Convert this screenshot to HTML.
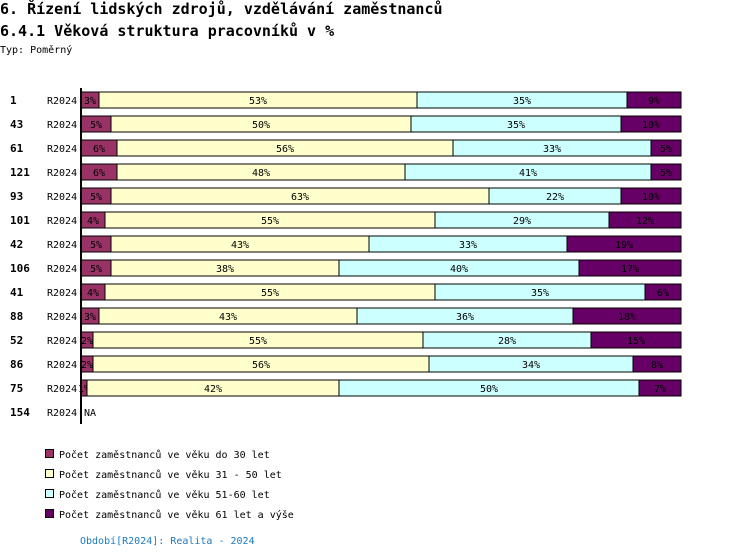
<!DOCTYPE html>
<html><head><meta charset="utf-8"><style>
body{margin:0;width:750px;height:558px;background:#fff;font-family:"DejaVu Sans Mono","Liberation Mono",monospace;position:relative;overflow:hidden}
.t{position:absolute;white-space:nowrap}
</style></head><body>
<div class="t" style="left:0;top:0;font-size:15px;font-weight:bold;line-height:18px">6. Řízení lidských zdrojů, vzdělávání zaměstnanců</div>
<div class="t" style="left:0;top:22px;font-size:15px;font-weight:bold;line-height:18px">6.4.1 Věková struktura pracovníků v %</div>
<div class="t" style="left:0;top:45px;font-size:10px">Typ: Poměrný</div>
<svg id="c" width="750" height="558" style="position:absolute;left:0;top:0"></svg>
<script>
const units=["1","43","61","121","93","101","42","106","41","88","52","86","75","154"];
const periods=["R2024","R2024","R2024","R2024","R2024","R2024","R2024","R2024","R2024","R2024","R2024","R2024","R2024","R2024"];
const under30=[3,5,6,6,5,4,5,5,4,3,2,2,1,null];
const age31to50=[53,50,56,48,63,55,43,38,55,43,55,56,42,null];
const age51to60=[35,35,33,41,22,29,33,40,35,36,28,34,50,null];
const over61=[9,10,5,5,10,12,19,17,6,18,15,8,7,null];
const seriesNames=["Počet zaměstnanců ve věku do 30 let","Počet zaměstnanců ve věku 31 - 50 let","Počet zaměstnanců ve věku 51-60 let","Počet zaměstnanců ve věku 61 let a výše"];
const colors=["#993366","#ffffcc","#ccffff","#660066"];
const NS="http://www.w3.org/2000/svg";
const svg=document.getElementById('c');
const x0=81,W=600,y0=100,step=24,bh=16;
function xs(v,tot){return v/tot*W;}
function yr(i){return y0+i*step;}
function mk(tag,a){const e=document.createElementNS(NS,tag);for(const k in a)e.setAttribute(k,a[k]);svg.appendChild(e);return e;}
const series=[under30,age31to50,age51to60,over61];
units.forEach((u,i)=>{
  const y=yr(i);
  let t=mk('text',{x:10,y:y+4,'font-size':11,'font-weight':'bold','font-family':'DejaVu Sans Mono, monospace'});t.textContent=u;
  
  
  t=mk('text',{x:47,y:y+4,'font-size':10,'font-family':'DejaVu Sans Mono, monospace'});t.textContent=periods[i];
  
  
  if(under30[i]==null){
    t=mk('text',{x:84,y:y+4,'font-size':10,'font-family':'DejaVu Sans Mono, monospace'});t.textContent="NA";
    
    
    return;
  }
  const tot=series.reduce((s,a)=>s+a[i],0);
  let x=x0;
  series.forEach((a,k)=>{
    const w=xs(a[i],tot);
    const r=mk('rect',{x:x,y:y-8,width:w,height:bh,fill:colors[k],stroke:'#000','stroke-width':1});
    
    
    const l=mk('text',{x:x+w/2,y:y+4,'font-size':10,'text-anchor':'middle','font-family':'DejaVu Sans Mono, monospace',fill:'#000'});
    l.textContent=a[i]+"%";
    
    
    x+=w;
  });
});
const ax=mk('line',{x1:x0,y1:88,x2:x0,y2:y0+(units.length-1)*step+12,stroke:'#000','stroke-width':2});


seriesNames.forEach((n,k)=>{
  const y=455+k*20;
  const r=mk('rect',{x:45.5,y:y-5.5,width:8,height:8,fill:colors[k],stroke:'#000','stroke-width':1});
  
  
  const t=mk('text',{x:59,y:y+3,'font-size':10,'font-family':'DejaVu Sans Mono, monospace'});t.textContent=n;
  
  
});
const f=mk('text',{x:80,y:544,'font-size':10,fill:'#1a7abf','font-family':'DejaVu Sans Mono, monospace'});f.textContent="Období[R2024]: Realita - 2024";


</script>
</body></html>
